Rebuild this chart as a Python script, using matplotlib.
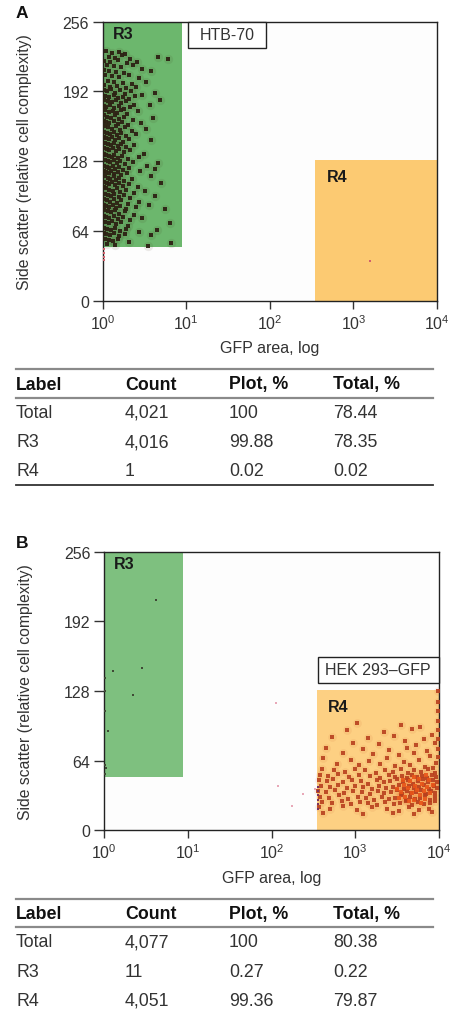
import matplotlib
matplotlib.use("Agg")
import matplotlib.pyplot as plt
from matplotlib.lines import Line2D

plt.rcParams['font.family'] = ['Liberation Sans', 'DejaVu Sans']
plt.rcParams['mathtext.fontset'] = 'custom'
plt.rcParams['mathtext.rm'] = 'Liberation Sans'

# ---------------- data ----------------
x_ticks = [1, 10, 100, 1000, 10000]
x_tick_labels = [r'$\mathregular{10^{0}}$', r'$\mathregular{10^{1}}$', r'$\mathregular{10^{2}}$',
                 r'$\mathregular{10^{3}}$', r'$\mathregular{10^{4}}$']
y_ticks = [0, 64, 128, 192, 256]

# gates: (x0, x1, y0, y1)
gate_r3 = (1, 8.8, 49, 256)
gate_r4 = (350, 10000, 0, 129)

# panel A events (log10 GFP area, side scatter)
a_events = [
    (0.04,229),(0.11,227),(0.19,228),(0.27,226),(0.07,224),(0.15,223),(0.23,225),(0.33,222),(0.66,224),
    (0.02,220),(0.09,219),(0.18,221),(0.29,218),(0.41,219),(0.78,222),(0.05,216),(0.13,215),(0.22,214),
    (0.36,216),(0.47,213),(0.01,212),(0.08,211),(0.16,210),(0.26,209),(0.58,211),(0.03,207),(0.11,206),
    (0.20,205),(0.31,207),(0.43,204),(0.06,202),(0.14,201),(0.24,200),(0.35,199),(0.52,201),(0.02,198),
    (0.09,196),(0.17,197),(0.28,195),(0.40,196),
    (0.01,193),(0.05,192),(0.10,194),(0.15,191),(0.21,193),(0.27,190),(0.34,192),(0.47,189),(0.62,191),
    (0.03,188),(0.08,187),(0.13,189),(0.18,186),(0.24,187),(0.31,185),(0.39,188),(0.02,184),(0.06,183),
    (0.11,182),(0.16,184),(0.22,181),(0.28,183),(0.37,180),(0.69,184),(0.01,179),(0.04,178),(0.09,180),
    (0.14,177),(0.19,179),(0.25,176),(0.33,178),(0.56,180),(0.03,175),(0.07,173),(0.12,174),(0.17,172),
    (0.22,175),(0.29,171),(0.42,174),(0.02,170),(0.05,169),(0.10,168),(0.15,170),(0.20,167),(0.26,169),
    (0.36,166),(0.60,168),(0.01,165),(0.04,164),(0.08,163),(0.13,165),(0.18,162),(0.23,164),(0.30,161),
    (0.46,163),(0.03,160),
    (0.06,159),(0.11,158),(0.16,160),(0.21,157),(0.27,159),(0.35,156),(0.52,158),(0.02,155),(0.05,154),
    (0.09,153),(0.13,155),(0.17,152),(0.22,154),(0.28,151),(0.40,153),(0.01,150),(0.04,149),(0.07,148),
    (0.11,150),(0.15,147),(0.19,149),(0.24,146),(0.31,148),(0.58,147),(0.03,145),(0.06,144),(0.10,143),
    (0.14,145),(0.18,142),(0.22,144),(0.28,141),(0.38,143),(0.02,140),(0.05,139),(0.08,138),(0.12,140),
    (0.16,137),(0.20,139),(0.25,136),(0.33,138),(0.50,135),(0.01,135),(0.04,134),(0.07,133),(0.11,132),
    (0.14,134),(0.18,131),(0.23,133),(0.30,130),(0.44,132),(0.03,129),(0.06,128),(0.09,127),(0.13,129),
    (0.17,126),(0.21,128),(0.27,125),(0.36,127),(0.66,126),(0.02,124),(0.05,123),(0.08,122),(0.12,124),
    (0.15,121),(0.19,123),(0.24,120),(0.32,122),(0.53,124),(0.62,121),(0.01,119),(0.04,118),(0.07,117),
    (0.10,119),(0.14,116),(0.18,118),(0.22,115),(0.29,117),(0.45,119),(0.03,114),(0.06,113),(0.09,112),
    (0.13,114),(0.16,111),(0.20,113),(0.26,110),(0.35,112),(0.58,114),(0.02,109),(0.05,108),(0.08,107),
    (0.11,109),(0.15,106),(0.19,108),(0.24,105),(0.31,107),(0.42,104),(0.70,108),(0.01,104),(0.04,103),
    (0.07,102),(0.12,101),(0.17,103),(0.21,100),(0.28,102),(0.38,99),(0.51,101),
    (0.03,98),(0.06,97),(0.10,96),(0.14,98),(0.19,95),(0.25,97),(0.33,94),(0.63,96),(0.02,93),(0.05,92),
    (0.09,91),(0.13,93),(0.17,90),(0.22,92),(0.30,89),(0.44,91),(0.01,88),(0.04,87),(0.08,86),(0.12,88),
    (0.16,85),(0.21,87),(0.28,84),(0.40,86),(0.55,88),(0.02,83),(0.06,82),(0.10,81),(0.15,83),(0.20,80),
    (0.27,82),(0.37,79),(0.74,84),(0.01,78),(0.04,77),(0.08,76),(0.13,78),(0.18,75),(0.24,77),(0.33,74),
    (0.47,76),(0.03,72),(0.07,71),(0.11,73),(0.16,70),(0.22,72),(0.30,69),(0.80,71),(0.02,67),(0.05,66),
    (0.10,65),(0.15,67),(0.21,64),(0.28,66),(0.43,63),(0.65,65),(0.01,62),(0.04,61),(0.09,60),(0.14,62),
    (0.20,59),(0.27,61),(0.58,60),(0.03,57),(0.07,56),(0.12,55),(0.18,57),(0.32,54),(0.05,52),(0.15,51),
    (0.54,50),(0.82,53),
]
a_minor_events = [(0.01,47),(0.02,44),(0.01,40),(0.02,37),(3.20,36)]

# panel B events
b_events = [
    (3.02,99),(3.55,97),(3.78,95),(2.90,92),(3.35,90),(3.68,93),(3.92,88),(2.72,86),(3.15,85),(3.47,87),
    (3.82,84),(3.60,82),(2.98,80),(3.28,79),(3.73,78),(3.95,80),(2.65,76),(3.10,75),(3.40,74),(3.62,76),
    (3.86,73),(2.85,71),(3.22,70),(3.52,69),(3.70,71),(3.90,68),(2.62,66),(2.95,65),(3.17,64),(3.38,66),
    (3.58,63),(3.77,65),(3.97,62),(2.78,61),(3.05,60),(3.30,61),(3.48,59),(3.66,60),(3.84,58),(3.93,57),
    (2.60,56),(2.75,55),(2.88,54),(3.00,56),(3.12,55),(3.25,53),(3.36,55),(3.45,54),(3.55,56),(3.63,53),
    (3.71,55),(3.79,54),(3.87,56),(3.95,53),
    (2.58,51),(2.68,50),(2.80,52),(2.93,49),(3.05,51),(3.18,50),(3.30,48),(3.40,51),(3.48,49),(3.56,50),
    (3.62,48),(3.68,51),(3.74,49),(3.80,50),(3.86,48),(3.92,51),(3.97,49),
    (2.57,46),(2.66,45),(2.74,47),(2.85,44),(2.96,46),(3.07,45),(3.16,43),(3.26,46),(3.34,44),(3.42,45),
    (3.50,47),(3.57,44),(3.63,46),(3.69,43),(3.75,45),(3.81,47),(3.87,44),(3.93,46),(3.98,44),
    (2.59,41),(2.70,40),(2.79,42),(2.90,39),(3.00,41),(3.10,40),(3.20,38),(3.29,41),(3.37,39),(3.45,40),
    (3.52,42),(3.58,38),(3.64,41),(3.70,39),(3.76,40),(3.82,42),(3.88,38),(3.94,41),(3.98,39),
    (2.56,36),(2.65,35),(2.76,37),(2.87,34),(2.97,36),(3.08,35),(3.18,33),(3.27,36),(3.35,34),(3.43,35),
    (3.50,37),(3.56,33),(3.62,36),(3.67,34),(3.73,35),(3.79,37),(3.85,33),(3.91,36),(3.96,34),
    (2.58,31),(2.69,30),(2.81,32),(2.92,29),(3.03,31),(3.13,30),(3.23,28),(3.32,31),(3.40,29),(3.48,30),
    (3.55,32),(3.61,28),(3.66,31),(3.72,29),(3.78,30),(3.84,32),(3.90,28),(3.95,31),
    (2.60,26),(2.72,25),(2.84,27),(2.95,24),(3.06,26),(3.16,25),(3.26,23),(3.36,26),(3.46,24),(3.54,25),
    (3.61,27),(3.68,23),(3.75,26),(3.82,24),(3.89,25),(3.96,27),
    (2.57,21),(2.70,20),(2.86,22),(3.02,19),(3.20,21),(3.38,20),(3.52,18),(3.64,21),(3.76,19),(3.88,20),
    (2.62,16),(3.10,15),(3.45,16),(3.70,15),(3.92,17),
    (3.99,128),(3.99,118),(3.99,110),(3.99,100),(3.99,92),(3.99,84),(3.99,75),(3.99,67),
]
b_core_events = [
    (3.50,38),(3.55,35),(3.58,42),(3.60,31),(3.63,39),(3.66,45),(3.68,34),(3.70,28),(3.72,41),(3.74,37),
    (3.76,47),(3.78,32),(3.80,43),(3.82,36),(3.84,29),(3.86,40),(3.88,46),(3.90,34),(3.64,27),(3.71,49),
    (3.57,46),(3.53,30),(3.79,25),(3.85,51),(3.93,42),
]
b_edge_events = [(2.555,20),(2.555,24),(2.555,28),(2.555,32),(2.555,36),(2.555,40)]
b_stray_events = [(2.05,117),(2.08,41),(2.25,22),(2.38,33),(2.52,38)]
b_r3_events = [(0.62,212),(0.10,146),(0.45,149),(0.34,124),(0.04,91),(0.01,128),(0.01,110),
               (0.01,60),(0.02,57),(0.01,52),(0.01,140)]

table_header = ["Label", "Count", "Plot, %", "Total, %"]
table_a = [["Total", "4,021", "100", "78.44"],
           ["R3", "4,016", "99.88", "78.35"],
           ["R4", "1", "0.02", "0.02"]]
table_b = [["Total", "4,077", "100", "80.38"],
           ["R3", "11", "0.27", "0.22"],
           ["R4", "4,051", "99.36", "79.87"]]

# ---------------- figure ----------------
W, H = 451, 1012
fig = plt.figure(figsize=(W / 100, H / 100), dpi=100)
fig.patch.set_facecolor('white')


def fx(px):
    return px / W


def fy(py):
    return 1 - py / H


def scat(ax, events, marker='s', **kw):
    xs = [10 ** e[0] for e in events]
    ys = [e[1] for e in events]
    ax.scatter(xs, ys, marker=marker, linewidths=0, zorder=3, **kw)


def panel(left, right, top, bottom, green, orange):
    ax = fig.add_axes([fx(left), fy(bottom), fx(right - left), (bottom - top) / H])
    ax.set_facecolor('#fdfdfd')
    ax.set_xscale('log')
    ax.set_xlim(1, 10000)
    ax.set_ylim(0, 256)
    ax.fill_between([gate_r3[0], gate_r3[1]], gate_r3[2], gate_r3[3], color=green, lw=0, zorder=1)
    ax.fill_between([gate_r4[0], gate_r4[1]], gate_r4[2], gate_r4[3], color=orange, lw=0, zorder=1)
    ax.set_xticks(x_ticks)
    ax.set_xticklabels(x_tick_labels)
    ax.xaxis.set_minor_locator(matplotlib.ticker.NullLocator())
    ax.set_yticks(y_ticks)
    ax.tick_params(axis='y', length=7, width=1, pad=3, labelsize=11.5, colors='#333333')
    ax.tick_params(axis='x', length=6, width=1, pad=3, labelsize=11.5, colors='#333333')
    for s in ax.spines.values():
        s.set_color('#222222')
        s.set_linewidth(1.0)
    ax.set_xlabel('GFP area, log', fontsize=11.5, color='#333333', labelpad=6)
    ax.set_ylabel('Side scatter (relative cell complexity)', fontsize=11.3, color='#333333')
    ax.yaxis.set_label_coords(-0.212, 0.5)
    ax.text(10 ** 0.12, 245, 'R3', fontsize=11.5, fontweight='bold', color='#1a1a1a', va='center', zorder=4)
    ax.text(10 ** 2.68, 114, 'R4', fontsize=11.5, fontweight='bold', color='#1a1a1a', va='center', zorder=4)
    return ax


# Panel A
axA = panel(102.7, 437, 22.7, 301.7, '#6cb76d', '#fcca72')
scat(axA, a_events, marker='o', s=45, color='#3a2a14', alpha=0.09)
scat(axA, a_events, s=6, color='#2d2214', alpha=0.95)
scat(axA, a_minor_events, s=3, color='#d0606c')
axA.add_patch(plt.Rectangle((10 ** 1.018, 231.6), 10 ** 1.952 - 10 ** 1.018, 256 - 231.6,
                            facecolor='white', edgecolor='#222222', lw=1.0, zorder=5, clip_on=False))
axA.text(10 ** 1.485, 243.8, 'HTB-70', fontsize=11.5, color='#333333', ha='center', va='center', zorder=6)

# Panel B
axB = panel(104.3, 438.7, 552.7, 831.3, '#7ec07f', '#fdd083')
scat(axB, b_events, marker='o', s=40, color='#c8461c', alpha=0.08)
scat(axB, b_core_events, marker='o', s=60, color='#ee5a14', alpha=0.10)
scat(axB, b_events, s=5, color='#b8401e', alpha=0.9)
scat(axB, b_core_events, s=5, color='#e85418', alpha=0.9)
scat(axB, b_edge_events, s=3, color='#7a3262')
scat(axB, b_stray_events, s=3, color='#e8a8b8')
scat(axB, b_r3_events, s=4, color='#3f4a35')
axB.add_patch(plt.Rectangle((10 ** 2.553, 135), 10000 - 10 ** 2.553, 159.5 - 135,
                            facecolor='white', edgecolor='#222222', lw=1.0, zorder=5, clip_on=False))
axB.text(10 ** 3.27, 147.3, 'HEK 293\u2013GFP', fontsize=11.5, color='#333333', ha='center', va='center', zorder=6)

# panel letters
fig.text(fx(16), fy(14), 'A', fontsize=12.5, fontweight='bold', color='#111111', va='center', ha='left')
fig.text(fx(16), fy(544), 'B', fontsize=12.5, fontweight='bold', color='#111111', va='center', ha='left')


def table(offset, rows, bottom_line=True):
    col_x = [16, 125, 229, 333]
    x0, x1 = fx(16), fx(433)
    fig.add_artist(Line2D([x0, x1], [fy(370 + offset)] * 2, color='#8a8a8a', lw=1.6))
    fig.add_artist(Line2D([x0, x1], [fy(398.5 + offset)] * 2, color='#8a8a8a', lw=1.6))
    if bottom_line:
        fig.add_artist(Line2D([x0, x1], [fy(486 + offset)] * 2, color='#333333', lw=1.3))
    for cx, h in zip(col_x, table_header):
        fig.text(fx(cx), fy(385 + offset), h, fontsize=12.8, fontweight='bold', color='#111111',
                 va='center', ha='left')
    for r, row in enumerate(rows):
        for cx, v in zip(col_x, row):
            fig.text(fx(cx), fy(413.3 + 29.3 * r + offset), v, fontsize=12.8, color='#333333',
                     va='center', ha='left')


table(0, table_a, True)
table(529.5, table_b, False)

fig.savefig('out.png', dpi=100, facecolor='white')
